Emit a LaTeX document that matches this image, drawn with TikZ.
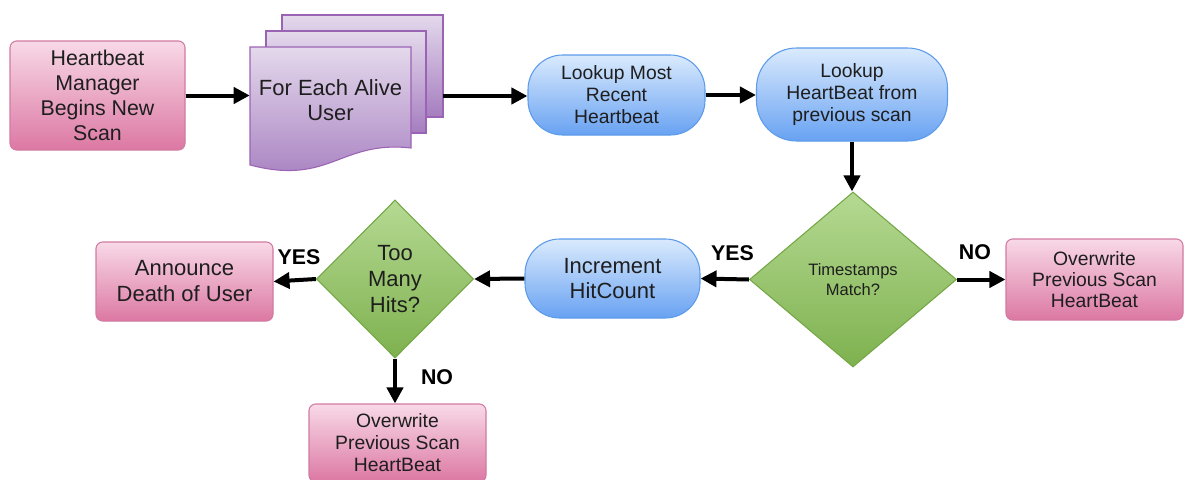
\documentclass[tikz,border=0pt]{standalone}
\usepackage{fontspec}
\setmainfont{Liberation Sans}
\usepackage{tikz}
\usetikzlibrary{shapes.geometric,arrows.meta,calc,positioning}

\definecolor{PinkTop}{HTML}{F8D9E7}
\definecolor{PinkBot}{HTML}{DC78A3}
\definecolor{PinkLine}{HTML}{D27AA1}
\definecolor{LilacTop}{HTML}{E4D9EC}
\definecolor{LilacBot}{HTML}{A57DBF}
\definecolor{LilacLine}{HTML}{9B63B4}
\definecolor{BlueTop}{HTML}{DAEAFD}
\definecolor{BlueBot}{HTML}{68A2F2}
\definecolor{BlueLine}{HTML}{5C9BEA}
\definecolor{GreenTop}{HTML}{B5D992}
\definecolor{GreenBot}{HTML}{7EB14F}
\definecolor{GreenLine}{HTML}{74A745}
\definecolor{Ink}{HTML}{1E1E1E}

\newcommand{\fsz}[2]{\fontsize{#1}{#2}\selectfont}

\begin{document}
\begin{tikzpicture}[x=0.75pt,y=-0.75pt,
  every node/.style={align=center,text=Ink,inner sep=0pt},
  pinkbox/.style={rectangle,rounded corners=5pt,draw=PinkLine,line width=0.8pt,top color=PinkTop,bottom color=PinkBot},
  bluepill/.style={rectangle,draw=BlueLine,line width=0.8pt,top color=BlueTop,bottom color=BlueBot},
  greendiamond/.style={diamond,draw=GreenLine,line width=0.8pt,top color=GreenTop,bottom color=GreenBot},
  lilacpage/.style={draw=LilacLine,line width=0.8pt,top color=LilacTop,bottom color=LilacBot},
  flow/.style={line width=3pt,-{Triangle[length=12pt,width=12pt]}},
  lbl/.style={font=\fsz{16}{19}\bfseries,text=black}]
\useasboundingbox (0,0) rectangle (1190,479);
\fill[white] (0,0) rectangle (1190,479);

\node (ScanStart) [pinkbox,minimum width=131.25pt,minimum height=81.75pt,font=\fsz{16}{18.75}] at (97.5,95.5) {Heartbeat\\Manager\\Begins New\\Scan};

\draw [lilacpage] (282,15) rectangle (443,117);
\draw [lilacpage] (266,31) rectangle (426,133);
\draw [lilacpage] (250,47) -- (411,47) -- (411,148) .. controls (340,140) and (330,186) .. (250,165) -- cycle;
\node (EachUser) [minimum width=120.75pt,font=\fsz{16.5}{18.75}] at (330.5,100) {For Each Alive\\User};
\coordinate (EachUserOut) at (443,96);

\node (RecentBeat) [bluepill,rounded corners=26pt,minimum width=132.75pt,minimum height=60pt,font=\fsz{14.5}{16.5}] at (616.5,95) {Lookup Most\\Recent\\Heartbeat};
\node (PreviousBeat) [bluepill,rounded corners=30pt,minimum width=143.25pt,minimum height=69.75pt,font=\fsz{14.5}{16.5}] at (852,94.5) {Lookup\\HeartBeat from\\previous scan};
\node (StampsMatch) [greendiamond,minimum width=155.25pt,minimum height=131.25pt,font=\fsz{12.4}{15}] at (853,279.5) {Timestamps\\Match?};
\node (OverwriteRight) [pinkbox,minimum width=132.75pt,minimum height=60.75pt,font=\fsz{14.5}{15.75}] at (1094.5,279.5) {Overwrite\\Previous Scan\\HeartBeat};
\node (IncrementHits) [bluepill,rounded corners=26pt,minimum width=131.25pt,minimum height=59.25pt,font=\fsz{16.5}{18.75}] at (612.5,278.5) {Increment\\HitCount};
\node (TooMany) [greendiamond,minimum width=117.75pt,minimum height=118.5pt,font=\fsz{16.5}{19.5}] at (395,279) {Too\\Many\\Hits?};
\node (AnnounceDeath) [pinkbox,minimum width=132.75pt,minimum height=59.25pt,font=\fsz{16.5}{19.5}] at (184.5,281.5) {Announce\\Death of User};
\node (OverwriteBottom) [pinkbox,minimum width=132.75pt,minimum height=58.5pt,font=\fsz{14.5}{16.5}] at (397.5,443) {Overwrite\\Previous Scan\\HeartBeat};

\draw [flow] (ScanStart.east) -- (ScanStart.east -| EachUser.west);
\draw [flow] (EachUserOut) -- (EachUserOut -| RecentBeat.west);
\draw [flow] (RecentBeat.east) -- (RecentBeat.east -| PreviousBeat.west);
\draw [flow] (PreviousBeat.south) -- (PreviousBeat.south |- StampsMatch.north);
\draw [flow] (StampsMatch.east) -- node [lbl,above=13pt,pos=0.37] (NoRight) {NO} (OverwriteRight.west);
\draw [flow] (StampsMatch.west) -- node [lbl,above=12pt,pos=0.34] (YesRight) {YES} (IncrementHits.east);
\draw [flow] (IncrementHits.west) -- (TooMany.east);
\draw [flow] (TooMany.west) -- node [lbl,above=10pt,pos=0.4] (YesLeft) {YES} (AnnounceDeath.east);
\draw [flow] (TooMany.south) -- node [lbl,right=18pt,pos=0.42] (NoBottom) {NO} (TooMany.south |- OverwriteBottom.north);
\end{tikzpicture}
\end{document}
